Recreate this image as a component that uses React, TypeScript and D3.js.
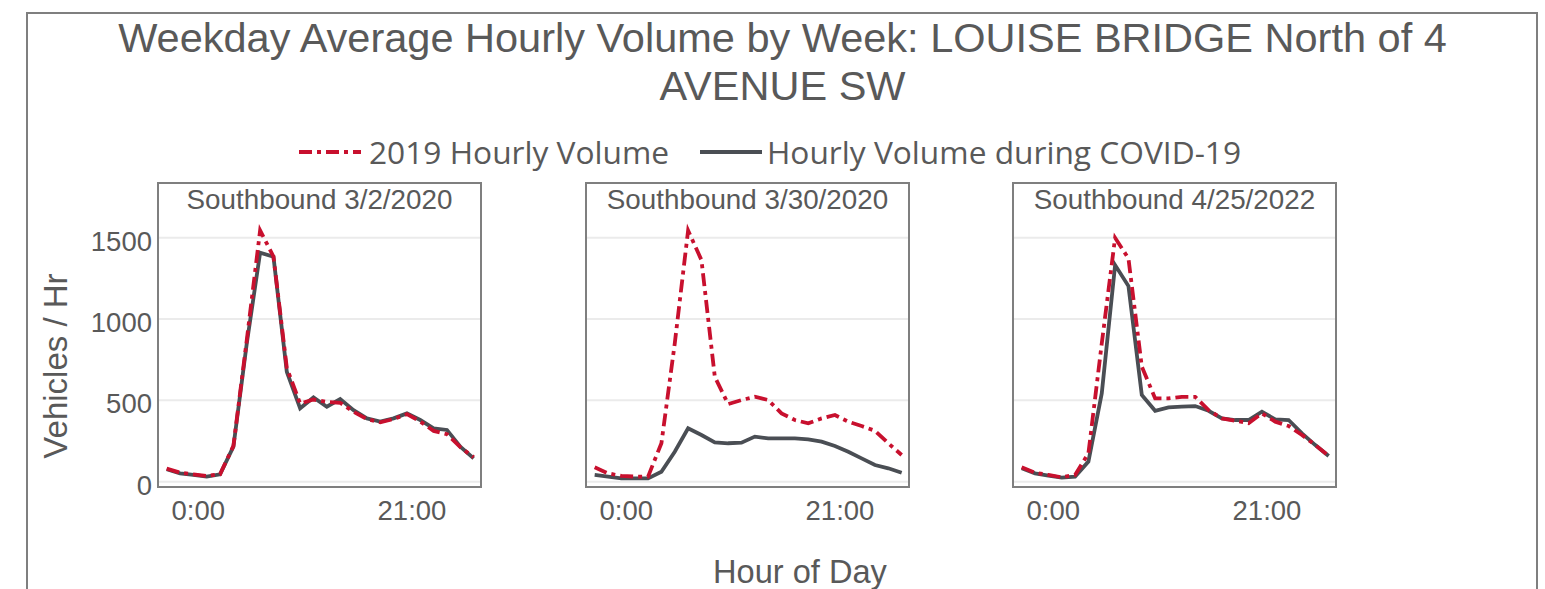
import React, { useRef, useEffect } from "react";
import * as d3 from "d3";

// hour of day (0 = midnight) for each point
const hours = [0, 1, 2, 3, 4, 5, 6, 7, 8, 9, 10, 11, 12, 13, 14, 15, 16, 17, 18, 19, 20, 21, 22, 23];

const panelTitles = ["Southbound 3/2/2020", "Southbound 3/30/2020", "Southbound 4/25/2022"];

// 2019 weekday hourly volume (same week, previous year)
const vol2019_a = [80, 55, 45, 35, 45, 220, 870, 1545, 1385, 700, 480, 505, 490, 485, 430, 385, 365, 385, 415, 370, 312, 292, 212, 150];
const vol2019_b = [88, 51, 35, 31, 31, 236, 850, 1545, 1363, 645, 477, 502, 522, 502, 420, 379, 359, 389, 410, 369, 342, 313, 236, 164];
const vol2019_c = [88, 55, 41, 27, 41, 174, 850, 1500, 1373, 707, 512, 512, 522, 522, 440, 389, 375, 359, 420, 369, 342, 287, 225, 158];

// hourly volume during COVID-19
const covid_a = [76, 51, 41, 31, 45, 215, 850, 1408, 1383, 676, 451, 518, 461, 508, 440, 389, 369, 389, 420, 379, 328, 318, 215, 143];
const covid_b = [41, 31, 20, 20, 20, 61, 184, 328, 287, 242, 236, 240, 277, 266, 266, 266, 260, 246, 219, 184, 143, 102, 82, 55];
const covid_c = [82, 51, 37, 25, 31, 123, 543, 1332, 1203, 533, 436, 457, 461, 465, 436, 389, 379, 379, 430, 383, 379, 297, 225, 158];

const series2019 = [vol2019_a, vol2019_b, vol2019_c];
const seriesCovid = [covid_a, covid_b, covid_c];

const yTicks = [0, 500, 1000, 1500];
const xTickHours = [2.37, 18.38];
const xTickLabels = ["0:00", "21:00"];

const legendLabels = ["2019 Hourly Volume", "Hourly Volume during COVID-19"];

const RED = "#c8102e";
const DARK = "#4a4e54";
const TEXT = "#595959";
const BORDER = "#7f7f7f";
const GRID = "#ebebeb";
const DASH = "13,5,4,5";

function App() {
    const svgRef = useRef(null);

    useEffect(() => {
        document.body.style.margin = "0";
        const svg = d3.select(svgRef.current);
        svg.selectAll("*").remove();
        svg.attr("width", 1545).attr("height", 589);

        // outer frame
        svg.append("rect")
            .attr("x", 27).attr("y", 13)
            .attr("width", 1510).attr("height", 600)
            .attr("fill", "none").attr("stroke", BORDER).attr("stroke-width", 2);

        // title
        const title = svg.append("text")
            .attr("text-anchor", "middle")
            .attr("font-family", "Liberation Sans, Arial, sans-serif")
            .attr("font-size", 41.5)
            .attr("fill", TEXT);
        title.append("tspan").attr("x", 782.5).attr("y", 52)
            .text("Weekday Average Hourly Volume by Week: LOUISE BRIDGE North of 4");
        title.append("tspan").attr("x", 782.5).attr("y", 100).text("AVENUE SW");

        // legend
        const legend = svg.append("g").attr("font-family", "Open Sans, sans-serif").attr("font-size", 31.7).attr("fill", TEXT);
        const legendItems = [
            { x1: 299, x2: 361, tx: 369, color: RED, dash: DASH },
            { x1: 700, x2: 762, tx: 767, color: DARK, dash: null },
        ];
        legendItems.forEach((it, i) => {
            legend.append("line")
                .attr("x1", it.x1).attr("x2", it.x2).attr("y1", 152).attr("y2", 152)
                .attr("stroke", it.color).attr("stroke-width", 4)
                .attr("stroke-dasharray", it.dash);
            legend.append("text").attr("x", it.tx).attr("y", 164).text(legendLabels[i]);
        });

        // panels
        const panelLefts = [158, 586, 1013];
        const panelW = 323;
        const top = 183;
        const bottom = 487;

        const y = d3.scaleLinear().domain([-33, 1837]).range([bottom, top]);

        panelLefts.forEach((left, p) => {
            const x = d3.scaleLinear().domain([-0.65, 23.55]).range([left, left + panelW]);
            const g = svg.append("g");

            g.selectAll(".grid")
                .data(yTicks)
                .join("line")
                .attr("x1", left).attr("x2", left + panelW)
                .attr("y1", (d) => y(d)).attr("y2", (d) => y(d))
                .attr("stroke", GRID).attr("stroke-width", 2);

            const lineGen = d3.line()
                .x((d, i) => x(hours[i]))
                .y((d) => y(d));

            g.append("path")
                .datum(seriesCovid[p])
                .attr("d", lineGen)
                .attr("fill", "none")
                .attr("stroke", DARK)
                .attr("stroke-width", 3.8);

            g.append("path")
                .datum(series2019[p])
                .attr("d", lineGen)
                .attr("fill", "none")
                .attr("stroke", RED)
                .attr("stroke-width", 3.8)
                .attr("stroke-dasharray", DASH);

            g.append("rect")
                .attr("x", left).attr("y", top)
                .attr("width", panelW).attr("height", bottom - top)
                .attr("fill", "none").attr("stroke", BORDER).attr("stroke-width", 2);

            g.append("text")
                .attr("x", left + panelW / 2).attr("y", 209)
                .attr("text-anchor", "middle")
                .attr("font-family", "Liberation Sans, Arial, sans-serif")
                .attr("font-size", 27.8)
                .attr("fill", TEXT)
                .text(panelTitles[p]);

            g.selectAll(".xt")
                .data(xTickHours)
                .join("text")
                .attr("x", (d) => x(d)).attr("y", 520)
                .attr("text-anchor", "middle")
                .attr("font-family", "Liberation Sans, Arial, sans-serif")
                .attr("font-size", 27.5)
                .attr("fill", TEXT)
                .text((d, i) => xTickLabels[i]);

            if (p === 0) {
                g.selectAll(".yt")
                    .data(yTicks)
                    .join("text")
                    .attr("x", left - 6).attr("y", (d) => y(d) + 13)
                    .attr("text-anchor", "end")
                    .attr("font-family", "Liberation Sans, Arial, sans-serif")
                    .attr("font-size", 27.5)
                    .attr("fill", TEXT)
                    .text((d) => d);
            }
        });

        // axis titles
        svg.append("text")
            .attr("transform", "translate(67,366) rotate(-90)")
            .attr("text-anchor", "middle")
            .attr("font-family", "Liberation Sans, Arial, sans-serif")
            .attr("font-size", 33)
            .attr("fill", TEXT)
            .text("Vehicles / Hr");

        svg.append("text")
            .attr("x", 800).attr("y", 583)
            .attr("text-anchor", "middle")
            .attr("font-family", "Liberation Sans, Arial, sans-serif")
            .attr("font-size", 32.6)
            .attr("fill", TEXT)
            .text("Hour of Day");
    }, []);

    return <svg ref={svgRef}></svg>;
}

export default App;
